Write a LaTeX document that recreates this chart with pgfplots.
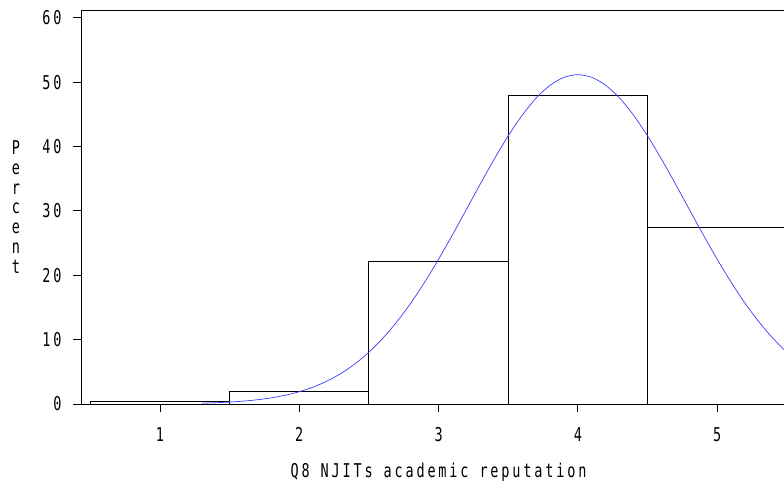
\documentclass[border=0pt]{standalone}
\usepackage{fontspec}
\setmainfont{DejaVu Sans Mono}[FakeStretch=0.71, LetterSpace=15]
\usepackage{pgfplots}
\pgfplotsset{compat=1.18}
\definecolor{curveblue}{RGB}{60,60,255}
\begin{document}
\begin{tikzpicture}
\begin{axis}[
  scale only axis,
  width=715bp, height=394bp,
  xmin=0.433, xmax=5.566,
  ymin=0, ymax=61.2,
  axis line style={line width=0.9bp, black},
  every tick/.style={line width=0.9bp, black},
  tick align=outside,
  xtick pos=left, ytick pos=left,
  major tick length=8bp,
  xtick={1,2,3,4,5},
  ytick={0,10,20,30,40,50,60},
  /pgf/number format/assume math mode=true,
  font=\fontsize{19bp}{22bp}\selectfont,
  tick label style={font=\fontsize{19bp}{22bp}\selectfont},
  xticklabel style={yshift=-12bp},
  yticklabel style={xshift=-8bp},
  xlabel={Q8 NJITs academic reputation},
  xlabel style={font=\fontsize{19bp}{22bp}\selectfont, yshift=-14bp},
  ylabel={P\\e\\r\\c\\e\\n\\t},
  ylabel style={at={(axis description cs:0,0.5)}, anchor=center, rotate=-90,
    xshift=-65bp, align=center, font=\fontsize{19bp}{19.7bp}\selectfont},
]
\coordinate (O) at (rel axis cs:0,0);
\addplot[ybar interval, draw=black, fill=none, line width=0.9bp]
  coordinates {(0.5,0.36) (1.5,2.0) (2.5,22.1) (3.5,47.9) (4.5,27.5) (5.5,27.5)};
\addplot[curveblue, line width=0.7bp, smooth, no marks] coordinates {
(1.3,0.128) (1.4,0.198) (1.5,0.301) (1.6,0.450) (1.7,0.662) (1.8,0.958)
(1.9,1.364) (2.0,1.911) (2.1,2.632) (2.2,3.567) (2.3,4.758) (2.4,6.238)
(2.5,8.050) (2.6,10.215) (2.7,12.755) (2.8,15.663) (2.9,18.923) (3.0,22.488)
(3.1,26.286) (3.2,30.229) (3.3,34.195) (3.4,38.049) (3.5,41.647) (3.6,44.848)
(3.7,47.504) (3.8,49.496) (3.9,50.732) (4.0,51.15) (4.1,50.732) (4.2,49.496)
(4.3,47.504) (4.4,44.848) (4.5,41.647) (4.6,38.049) (4.7,34.195) (4.8,30.229)
(4.9,26.286) (5.0,22.488) (5.1,18.923) (5.2,15.663) (5.3,12.755) (5.4,10.215)
(5.5,8.050) (5.6,6.238)};
\end{axis}
\pgfresetboundingbox
\path[use as bounding box] ([shift={(-81bp,-81bp)}]O) rectangle ([shift={(703bp,404bp)}]O);
\end{tikzpicture}
\end{document}
